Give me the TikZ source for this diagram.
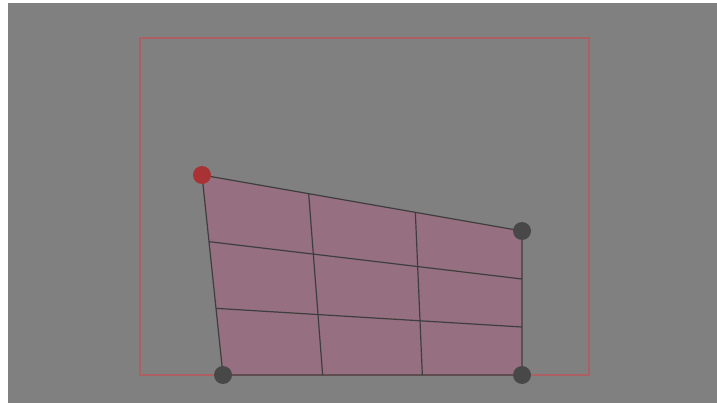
\documentclass[tikz,border=0pt]{standalone}
\usetikzlibrary{calc}
\definecolor{bggray}{RGB}{128,128,128}
\definecolor{quadfill}{RGB}{150,112,128}
\definecolor{edgecol}{RGB}{62,62,62}
\definecolor{framered}{RGB}{172,96,98}
\definecolor{redpt}{RGB}{168,50,52}
\definecolor{darkpt}{RGB}{72,72,72}
\tikzset{
  frame/.style={draw=framered, line width=1.3pt},
  quad/.style={fill=quadfill, draw=edgecol, line width=1.2pt},
  gridline/.style={draw=edgecol, line width=1.2pt},
  handle/.style={circle, inner sep=0pt, minimum size=18pt},
}
\begin{document}
\begin{tikzpicture}[x=1pt,y=-1pt]
\useasboundingbox (0,0) rectangle (717,403);
\fill[white] (0,0) rectangle (717,403);
\fill[bggray] (8,3) rectangle (717,403);
\draw[frame] (140,38) rectangle (589,375);
\coordinate (A) at (202,175);
\coordinate (B) at (522,231);
\coordinate (C) at (522,375);
\coordinate (D) at (223,375);
\draw[quad] (A) -- (B) -- (C) -- (D) -- cycle;
\foreach \t in {0.3333,0.6667}{
  \draw[gridline] ($(A)!\t!(B)$) -- ($(D)!\t!(C)$);
  \draw[gridline] ($(A)!\t!(D)$) -- ($(B)!\t!(C)$);
}
\node[handle, fill=redpt] (pA) at (A) {};
\node[handle, fill=darkpt] (pB) at (B) {};
\node[handle, fill=darkpt] (pC) at (C) {};
\node[handle, fill=darkpt] (pD) at (D) {};
\end{tikzpicture}
\end{document}
